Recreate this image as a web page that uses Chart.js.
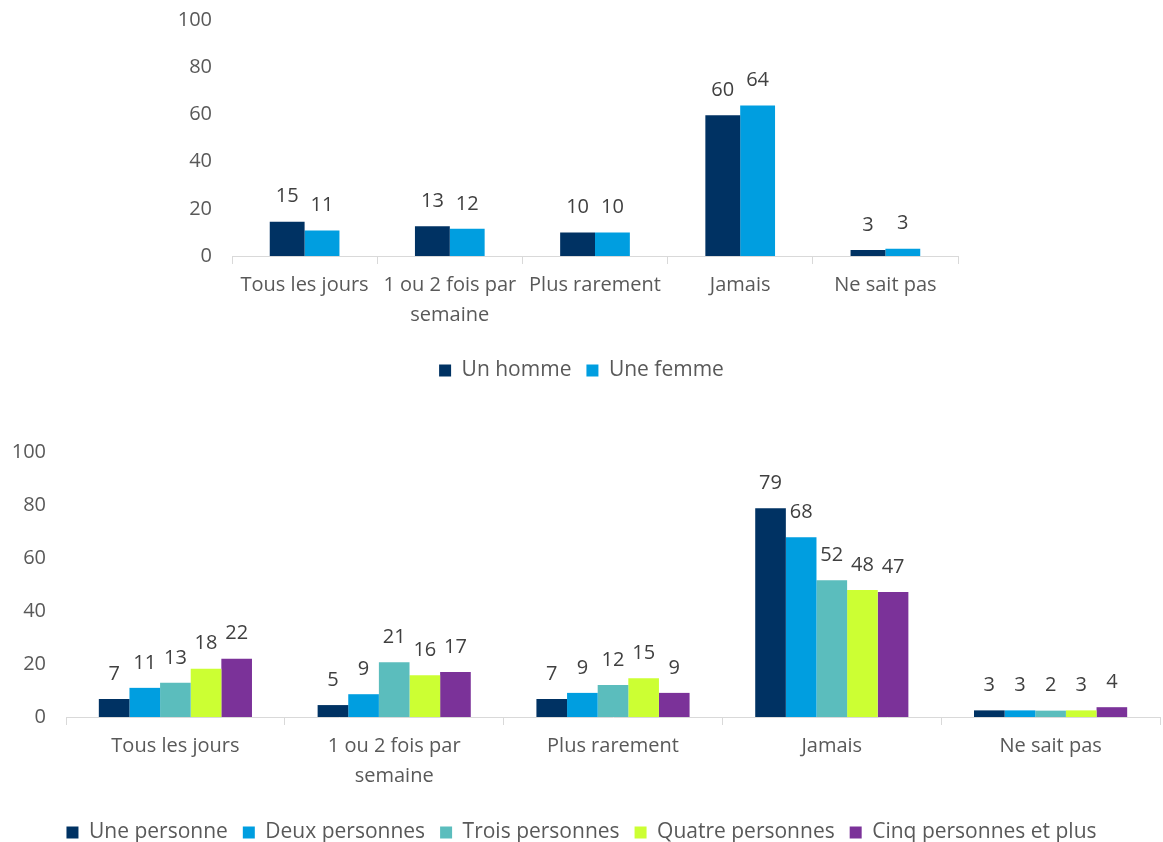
<!DOCTYPE html>
<html>
<head>
<meta charset="utf-8">
<script src="https://cdn.jsdelivr.net/npm/chart.js@4"></script>
<style>
  html, body { margin: 0; padding: 0; background: #fff; overflow: hidden; }
  .box { position: absolute; left: 0; width: 1163px; }
  #haut { top: 0; height: 400px; }
  #bas { top: 400px; height: 460px; }
</style>
</head>
<body>
<div class="box" id="haut"><canvas id="graphSexe"></canvas></div>
<div class="box" id="bas"><canvas id="graphFoyer"></canvas></div>
<script>
const categories = ['Tous les jours', ['1 ou 2 fois par', 'semaine'], 'Plus rarement', 'Jamais', 'Ne sait pas'];

// Graphique 1 : selon le sexe
const sexes = ['Un homme', 'Une femme'];
const hommeVals = [14.5, 12.6, 10.0, 59.6, 2.5];
const femmeVals = [10.8, 11.5, 10.0, 63.8, 3.1];

// Graphique 2 : selon la taille du foyer
const foyers = ['Une personne', 'Deux personnes', 'Trois personnes', 'Quatre personnes', 'Cinq personnes et plus'];
const unePers = [6.8, 4.5, 6.8, 78.8, 2.5];
const deuxPers = [11.0, 8.6, 9.1, 67.8, 2.5];
const troisPers = [12.9, 20.7, 12.1, 51.6, 2.4];
const quatrePers = [18.2, 15.8, 14.6, 47.9, 2.5];
const cinqPers = [22.0, 17.0, 9.1, 47.2, 3.7];

const yTicks = [0, 20, 40, 60, 80, 100];

const couleurs = ['#003263', '#009ee0', '#5bbdbd', '#ccff33', '#7b3299'];
const police = "'Open Sans', 'DejaVu Sans', sans-serif";
const gris = '#595959';

// étiquettes de valeurs au-dessus des barres
const etiquettes = {
  id: 'etiquettes',
  afterDatasetsDraw(chart) {
    const ctx = chart.ctx;
    ctx.save();
    ctx.font = '20px ' + police;
    ctx.fillStyle = '#404040';
    ctx.textAlign = 'center';
    ctx.textBaseline = 'bottom';
    chart.data.datasets.forEach((ds, i) => {
      chart.getDatasetMeta(i).data.forEach((bar, j) => {
        ctx.fillText(Math.round(ds.data[j]), bar.x, bar.y - 15);
      });
    });
    ctx.restore();
  }
};

function options(largeurY, largeurDroite, hauteurX, padding) {
  return {
    responsive: true,
    maintainAspectRatio: false,
    animation: false,
    layout: { padding: padding },
    plugins: {
      tooltip: { enabled: false },
      legend: {
        position: 'bottom',
        labels: {
          color: gris,
          font: { family: police, size: 21 },
          boxWidth: 12,
          boxHeight: 12,
          padding: 15
        }
      }
    },
    scales: {
      x: {
        grid: { display: true, drawOnChartArea: false, drawTicks: true, tickLength: 8, color: '#d9d9d9' },
        border: { display: true, color: '#d9d9d9' },
        ticks: {
          color: gris,
          font: { family: police, size: 20, lineHeight: 1.5 },
          padding: 6,
          maxRotation: 0,
          autoSkip: false
        },
        afterFit: (scale) => { scale.height = hauteurX; }
      },
      y: {
        min: 0,
        max: 100,
        grid: { display: false, drawTicks: true, tickLength: 20 },
        border: { display: false },
        afterBuildTicks: (scale) => { scale.ticks = yTicks.map(v => ({ value: v })); },
        ticks: {
          color: gris,
          font: { family: police, size: 20 },
          padding: 0
        },
        afterFit: (scale) => { scale.width = largeurY; }
      },
      droite: {
        type: 'linear',
        position: 'right',
        display: true,
        grid: { display: false, drawTicks: false },
        border: { display: false },
        ticks: { display: false, padding: 0 },
        afterFit: (scale) => { scale.width = largeurDroite; }
      }
    }
  };
}

new Chart(document.getElementById('graphSexe').getContext('2d'), {
  type: 'bar',
  data: {
    labels: categories,
    datasets: [
      { label: sexes[0], data: hommeVals, backgroundColor: couleurs[0], barPercentage: 1, categoryPercentage: 0.48 },
      { label: sexes[1], data: femmeVals, backgroundColor: couleurs[1], barPercentage: 1, categoryPercentage: 0.48 }
    ]
  },
  options: options(232, 205, 89, { top: 20, right: 0, bottom: 9, left: 0 }),
  plugins: [etiquettes]
});

const seriesFoyer = [unePers, deuxPers, troisPers, quatrePers, cinqPers];

new Chart(document.getElementById('graphFoyer').getContext('2d'), {
  type: 'bar',
  data: {
    labels: categories,
    datasets: seriesFoyer.map((vals, i) => ({
      label: foyers[i],
      data: vals,
      backgroundColor: couleurs[i],
      barPercentage: 1,
      categoryPercentage: 0.7
    }))
  },
  options: options(66, 3, 90, { top: 52, right: 0, bottom: 7, left: 0 }),
  plugins: [etiquettes]
});
</script>
</body>
</html>
